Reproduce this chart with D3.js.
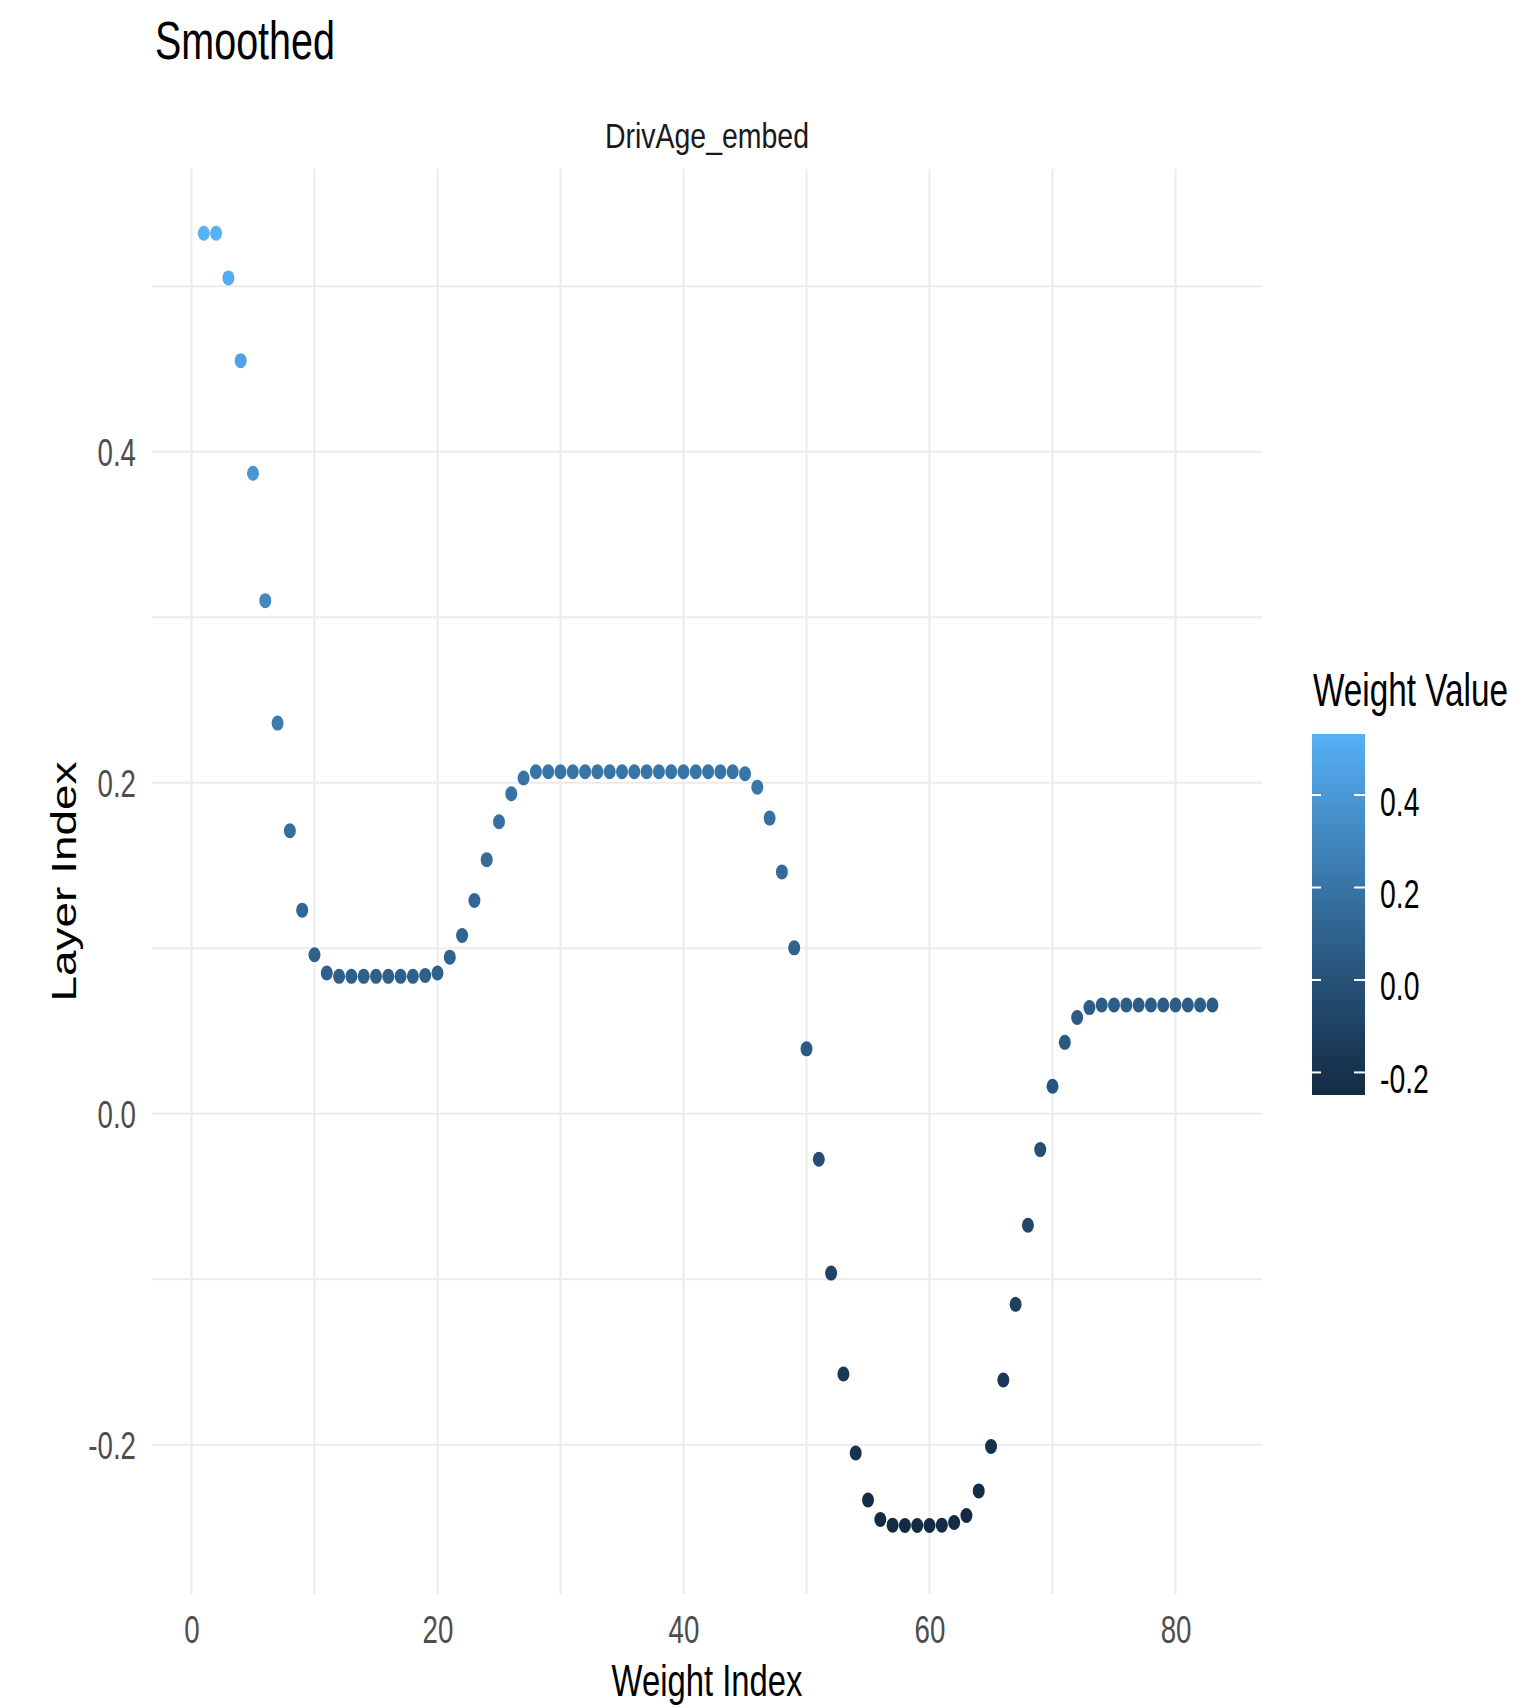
<!DOCTYPE html>
<html>
<head>
<meta charset="utf-8">
<script src="https://cdn.jsdelivr.net/npm/d3@7"></script>
<style>
  body { margin: 0; background: #fff; }
  svg { display: block; font-family: "Liberation Sans", Arial, sans-serif; }
</style>
</head>
<body>
<svg id="chart" width="1527" height="1706"></svg>
<script>
// weight index 1..83
const weightIndex = [
  1, 2, 3, 4, 5, 6, 7, 8, 9, 10, 11, 12, 13, 14, 15, 16, 17, 18, 19, 20,
  21, 22, 23, 24, 25, 26, 27, 28, 29, 30, 31, 32, 33, 34, 35, 36, 37, 38, 39, 40,
  41, 42, 43, 44, 45, 46, 47, 48, 49, 50, 51, 52, 53, 54, 55, 56, 57, 58, 59, 60,
  61, 62, 63, 64, 65, 66, 67, 68, 69, 70, 71, 72, 73, 74, 75, 76, 77, 78, 79, 80,
  81, 82, 83
];

// smoothed weight values
const weightValue = [
  0.532, 0.532, 0.505, 0.455, 0.387, 0.310, 0.236, 0.171, 0.123, 0.096,
  0.085, 0.083, 0.083, 0.083, 0.083, 0.083, 0.083, 0.083, 0.0835, 0.085,
  0.0946, 0.1077, 0.1288, 0.1535, 0.1764, 0.1933, 0.2028, 0.2066, 0.2066, 0.2066,
  0.2066, 0.2066, 0.2066, 0.2066, 0.2066, 0.2066, 0.2066, 0.2066, 0.2066, 0.2066,
  0.2066, 0.2066, 0.2066, 0.2066, 0.2054, 0.1973, 0.1786, 0.1461, 0.1002, 0.0392,
  -0.0275, -0.0963, -0.1573, -0.205, -0.2334, -0.2452, -0.2486, -0.2488, -0.2488, -0.2488,
  -0.2486, -0.247, -0.2428, -0.2279, -0.2011, -0.1609, -0.1152, -0.0674, -0.0217, 0.0166,
  0.0431, 0.0581, 0.0641, 0.0657, 0.0657, 0.0657, 0.0657, 0.0657, 0.0657, 0.0657,
  0.0657, 0.0657, 0.0657
];

const xMajor = [0, 20, 40, 60, 80];
const xMinor = [10, 30, 50, 70];
const yMajor = [-0.2, 0.0, 0.2, 0.4];
const yMinor = [-0.1, 0.1, 0.3, 0.5];
const legendTicks = [-0.2, 0.0, 0.2, 0.4];

const GRID = '#ebebeb';
const TICK_TEXT = '#4d4d4d';
const SQUEEZE = 0.71;
const FONT = '"Liberation Sans", Arial, sans-serif';

const svg = d3.select('#chart');
const data = weightIndex.map((d, i) => ({ x: d, v: weightValue[i] }));

const panel = { left: 152, right: 1262.5, top: 169, bottom: 1594 };

const x = d3.scaleLinear().domain([-3.21, 87.07]).range([panel.left, panel.right]);
const y = d3.scaleLinear().domain([-0.2902, 0.5708]).range([panel.bottom, panel.top]);

const vExtent = d3.extent(weightValue);
const color = d3.scaleLinear()
  .domain(vExtent)
  .range(['#132B43', '#56B1F7'])
  .interpolate(d3.interpolateLab);

const fmt = d => d.toFixed(1);

// the reference is a stretched render: squeeze text around its anchor x
function squeeze(sel, k) {
  sel.each(function () {
    const ax = +(this.getAttribute('x') || 0);
    d3.select(this).attr('transform', `translate(${ax},0) scale(${k},1) translate(${-ax},0)`);
  });
}

// squeeze a text to a given width
function fitText(g, w) {
  const t = g.select('text');
  const k = w / t.node().getComputedTextLength();
  t.attr('transform', `scale(${k},1)`);
}

function label(px, py, txt, size, width, opts = {}) {
  const g = svg.append('g').attr('transform', `translate(${px},${py})${opts.rotate ? ' rotate(-90)' : ''}`);
  g.append('text')
    .attr('text-anchor', opts.anchor || 'start')
    .attr('font-size', size)
    .attr('fill', opts.fill || '#000')
    .text(txt);
  fitText(g, width);
  return g;
}

// grid
const grid = svg.append('g');
grid.selectAll('line.hy')
  .data(yMinor.concat(yMajor))
  .join('line')
  .attr('x1', panel.left).attr('x2', panel.right)
  .attr('y1', d => y(d)).attr('y2', d => y(d))
  .attr('stroke', GRID).attr('stroke-width', 2);
grid.selectAll('line.vx')
  .data(xMinor.concat(xMajor))
  .join('line')
  .attr('y1', panel.top).attr('y2', panel.bottom)
  .attr('x1', d => x(d)).attr('x2', d => x(d))
  .attr('stroke', GRID).attr('stroke-width', 2);

// axes
const xAxis = svg.append('g')
  .attr('transform', `translate(0,${panel.bottom})`)
  .call(d3.axisBottom(x).tickValues(xMajor).tickFormat(d => d).tickSize(0).tickPadding(0));
xAxis.select('.domain').remove();
xAxis.selectAll('text')
  .attr('y', 49).attr('dy', 0)
  .attr('font-size', 39).attr('fill', TICK_TEXT)
  .attr('font-family', FONT)
  .call(squeeze, SQUEEZE);

const yAxis = svg.append('g')
  .attr('transform', `translate(${panel.left},0)`)
  .call(d3.axisLeft(y).tickValues(yMajor).tickFormat(fmt).tickSize(0).tickPadding(16));
yAxis.select('.domain').remove();
yAxis.selectAll('text')
  .attr('dy', '0.36em')
  .attr('font-size', 39).attr('fill', TICK_TEXT)
  .attr('font-family', FONT)
  .call(squeeze, SQUEEZE);

// points
svg.append('g')
  .selectAll('ellipse')
  .data(data)
  .join('ellipse')
  .attr('cx', d => x(d.x))
  .attr('cy', d => y(d.v))
  .attr('rx', 6)
  .attr('ry', 7.5)
  .attr('fill', d => color(d.v));

// titles
label(155, 59, 'Smoothed', 53, 180);
label(707, 148, 'DrivAge_embed', 36, 204, { anchor: 'middle', fill: '#1a1a1a' });
label(707, 1696, 'Weight Index', 44, 191, { anchor: 'middle' });
label(76, (panel.top + panel.bottom) / 2, 'Layer Index', 35, 240, { anchor: 'middle', rotate: true });

// legend
const bar = { x: 1312, w: 53, top: 734, bottom: 1095 };
const yL = d3.scaleLinear().domain(vExtent).range([bar.bottom, bar.top]);

const grad = svg.append('defs').append('linearGradient')
  .attr('id', 'wv-grad')
  .attr('x1', 0).attr('x2', 0).attr('y1', 1).attr('y2', 0);
grad.selectAll('stop')
  .data(d3.range(0, 1.0001, 0.05))
  .join('stop')
  .attr('offset', t => t)
  .attr('stop-color', t => color(vExtent[0] + t * (vExtent[1] - vExtent[0])));

label(1313, 706, 'Weight Value', 46, 195);

svg.append('rect')
  .attr('x', bar.x).attr('y', bar.top)
  .attr('width', bar.w).attr('height', bar.bottom - bar.top)
  .attr('fill', 'url(#wv-grad)');

const ticksL = svg.append('g');
ticksL.selectAll('line.l')
  .data(legendTicks)
  .join('line')
  .attr('x1', bar.x).attr('x2', bar.x + 9)
  .attr('y1', d => yL(d)).attr('y2', d => yL(d))
  .attr('stroke', '#fff').attr('stroke-width', 2);
ticksL.selectAll('line.r')
  .data(legendTicks)
  .join('line')
  .attr('x1', bar.x + bar.w - 11).attr('x2', bar.x + bar.w)
  .attr('y1', d => yL(d)).attr('y2', d => yL(d))
  .attr('stroke', '#fff').attr('stroke-width', 2);

const legAxis = svg.append('g')
  .attr('transform', `translate(${bar.x + bar.w},0)`)
  .call(d3.axisRight(yL).tickValues(legendTicks).tickFormat(fmt).tickSize(0).tickPadding(15));
legAxis.select('.domain').remove();
legAxis.selectAll('text')
  .attr('dy', '0.5em')
  .attr('font-size', 40).attr('fill', '#000')
  .attr('font-family', FONT)
  .call(squeeze, SQUEEZE);
</script>
</body>
</html>
